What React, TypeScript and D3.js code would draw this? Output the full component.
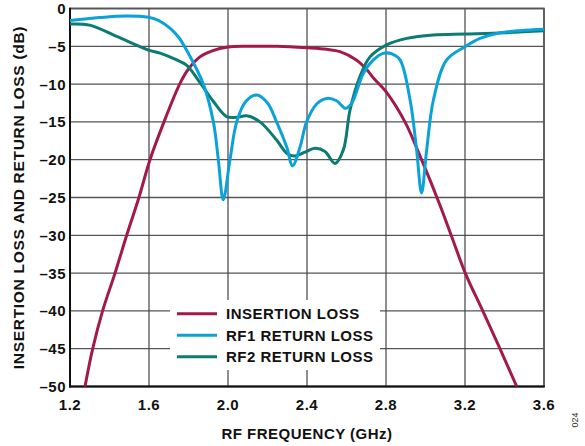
import React from "react";
import * as d3 from "d3";

const xTicks = [1.2, 1.6, 2.0, 2.4, 2.8, 3.2, 3.6];
const xTickLabels = ["1.2", "1.6", "2.0", "2.4", "2.8", "3.2", "3.6"];
const yTicks = [0, -5, -10, -15, -20, -25, -30, -35, -40, -45, -50];

const ilFreq = [1.276, 1.315, 1.365, 1.428, 1.487, 1.549, 1.605, 1.676, 1.757, 1.8, 1.858, 1.92, 2.0, 2.1, 2.25, 2.4, 2.5, 2.567, 2.65, 2.7, 2.74, 2.8, 2.896, 2.98, 3.073, 3.13, 3.203, 3.29, 3.377, 3.462];
const ilDb = [-50, -45, -40, -35, -30, -25, -20, -15, -9.9, -8.0, -6.4, -5.6, -5.1, -5.0, -5.0, -5.2, -5.4, -5.7, -6.8, -8.0, -9.3, -11.0, -15, -20, -26, -30, -35.1, -40, -45, -50];

const rf1Freq = [1.2, 1.35, 1.487, 1.597, 1.65, 1.706, 1.75, 1.79, 1.875, 1.926, 1.951, 1.976, 2.01, 2.044, 2.09, 2.145, 2.2, 2.246, 2.297, 2.327, 2.365, 2.398, 2.45, 2.5, 2.55, 2.595, 2.625, 2.685, 2.736, 2.786, 2.83, 2.871, 2.922, 2.955, 2.98, 3.006, 3.04, 3.107, 3.2, 3.276, 3.36, 3.479, 3.6];
const rf1Db = [-1.6, -1.2, -1.0, -1.17, -1.6, -2.6, -3.8, -5.5, -10, -15, -20, -25.3, -20, -15, -12.3, -11.45, -12.5, -15, -18.3, -20.8, -18.3, -15, -12.6, -11.9, -12.2, -13.2, -12.6, -8.6, -6.8, -5.93, -6.0, -6.8, -12.1, -18.7, -24.4, -18.7, -12.1, -6.8, -5.05, -3.95, -3.3, -2.93, -2.75];

const rf2Freq = [1.2, 1.3, 1.436, 1.597, 1.656, 1.74, 1.79, 1.858, 1.926, 1.993, 2.044, 2.095, 2.162, 2.246, 2.3, 2.34, 2.39, 2.44, 2.491, 2.542, 2.584, 2.618, 2.668, 2.719, 2.803, 2.905, 3.04, 3.2, 3.4, 3.6];
const rf2Db = [-2.05, -2.2, -3.7, -5.5, -5.9, -6.8, -7.5, -9.8, -12.3, -14.3, -14.4, -14.2, -15, -17.4, -19.2, -19.5, -19.0, -18.5, -18.9, -20.5, -18.7, -13.4, -9.0, -6.4, -4.8, -3.95, -3.5, -3.37, -3.2, -2.93];

const seriesNames = ["INSERTION LOSS", "RF1 RETURN LOSS", "RF2 RETURN LOSS"];
const seriesColors = ["#a3194b", "#0aa2d8", "#0b7b73"];

const W = 585;
const H = 446;
const L = 70, R = 544, T = 8.5, B = 386.5;
const FONT = "'Liberation Sans', Arial, sans-serif";
const FS = 15;
const LS = 0.5;

export default function App() {
  const x = d3.scaleLinear().domain([1.2, 3.6]).range([L, R]);
  const y = d3.scaleLinear().domain([0, -50]).range([T, B]);
  const line = d3
    .line<[number, number]>()
    .x((d) => x(d[0]))
    .y((d) => y(d[1]))
    .curve(d3.curveCatmullRom.alpha(0.5));
  const zip = (a: number[], b: number[]) => a.map((v, i) => [v, b[i]] as [number, number]);
  const series = [zip(ilFreq, ilDb), zip(rf1Freq, rf1Db), zip(rf2Freq, rf2Db)];
  const drawOrder = [0, 2, 1];

  const legX = 177, legY = 313.7, legStep = 21.5;

  return (
    <svg width={W} height={H} style={{ position: "absolute", left: 0, top: 0, background: "#fff" }} fontFamily={FONT}>
      <defs>
        <clipPath id="plot">
          <rect x={L} y={T} width={R - L} height={B - T} />
        </clipPath>
      </defs>
      {/* grid */}
      {yTicks.map((t) => (
        <line key={"h" + t} x1={L} x2={R} y1={y(t)} y2={y(t)} stroke="#555" strokeWidth={1.3} />
      ))}
      {xTicks.map((t) => (
        <line key={"v" + t} x1={x(t)} x2={x(t)} y1={T} y2={B} stroke="#444" strokeWidth={1.2} />
      ))}
      {/* legend box covering grid */}
      <rect x={170} y={300} width={210} height={70} fill="#fff" />
      {/* frame */}
      <rect x={L} y={T} width={R - L} height={B - T} fill="none" stroke="#555" strokeWidth={1.6} />
      <line x1={L} x2={L} y1={T - 0.8} y2={B + 1} stroke="#111" strokeWidth={2} />
      <line x1={L - 1} x2={R + 0.8} y1={B} y2={B} stroke="#111" strokeWidth={2} />
      {/* curves */}
      <g clipPath="url(#plot)">
        {drawOrder.map((i) => (
          <path key={i} d={line(series[i]) || ""} fill="none" stroke={seriesColors[i]} strokeWidth={3} strokeLinejoin="round" strokeLinecap="round" />
        ))}
      </g>
      {/* y tick labels */}
      {yTicks.map((t) => (
        <text key={"yl" + t} x={L - 4} y={y(t)} dy="0.36em" textAnchor="end" fontSize={FS} letterSpacing={LS} fontWeight="bold" fill="#111">
          {t === 0 ? "0" : "\u2013" + Math.abs(t)}
        </text>
      ))}
      {/* x tick labels */}
      {xTicks.map((t, i) => (
        <text key={"xl" + t} x={x(t)} y={410} textAnchor="middle" fontSize={FS} letterSpacing={LS} fontWeight="bold" fill="#111">
          {xTickLabels[i]}
        </text>
      ))}
      {/* axis titles */}
      <text x={(L + R) / 2} y={439} textAnchor="middle" fontSize={FS} letterSpacing={LS} fontWeight="bold" fill="#111">
        RF FREQUENCY (GHz)
      </text>
      <text transform={`translate(24, ${(T + B) / 2}) rotate(-90)`} textAnchor="middle" fontSize={15.5} letterSpacing={0.7} fontWeight="bold" fill="#111">
        INSERTION LOSS AND RETURN LOSS (dB)
      </text>
      <text transform="translate(578, 420) rotate(-90)" textAnchor="middle" fontSize={9} fill="#333">
        024
      </text>
      {/* legend */}
      {seriesNames.map((n, i) => (
        <g key={n}>
          <line x1={legX} x2={legX + 40} y1={legY + i * legStep} y2={legY + i * legStep} stroke={seriesColors[i]} strokeWidth={3} />
          <text x={legX + 49} y={legY + i * legStep} dy="0.36em" fontSize={FS} letterSpacing={LS} fontWeight="bold" fill="#111">
            {n}
          </text>
        </g>
      ))}
    </svg>
  );
}
